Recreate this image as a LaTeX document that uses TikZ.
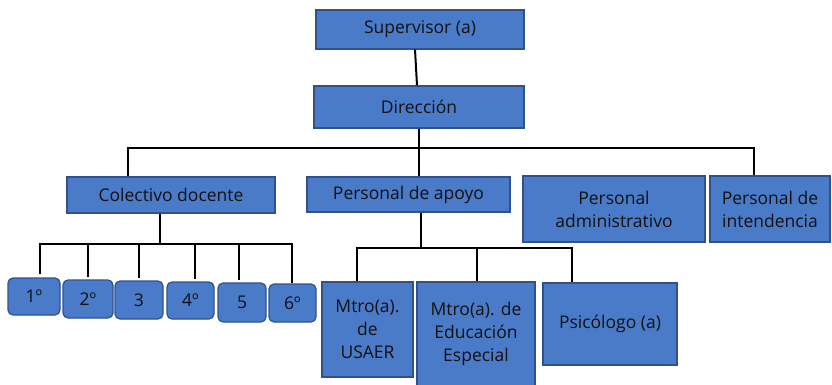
\documentclass[tikz,border=0pt]{standalone}
\usepackage{fontspec}
\setmainfont{Open Sans}
\usetikzlibrary{calc}
\definecolor{boxfill}{HTML}{4A7BC9}
\definecolor{boxline}{HTML}{2F528F}
\definecolor{txt}{HTML}{111111}
\tikzset{
  box/.style={draw=boxline, line width=1.2pt, fill=boxfill, text=txt, align=center,
    inner sep=0pt, font=\fontsize{17.5}{23}\selectfont},
  rbox/.style={box, rounded corners=5pt},
  conn/.style={draw=black, line width=2pt},
}
\begin{document}
\begin{tikzpicture}[x=1pt,y=-1pt]
\useasboundingbox (0,0) rectangle (832,384);
\fill[white] (0,0) rectangle (832,384);
% top
\node[box, minimum width=208, minimum height=39] (sup) at (420,29.5) {Supervisor (a)};
\node[box, minimum width=210, minimum height=42] (dir) at (419,107) {Dirección};
% level 2
\node[box, minimum width=208, minimum height=36] (col) at (171,195) {Colectivo docente};
\node[box, minimum width=203, minimum height=35] (apo) at (408.5,194.5) {Personal de apoyo};
\node[box, minimum width=182, minimum height=66] (adm) at (614,209) {Personal\\administrativo};
\node[box, minimum width=120, minimum height=66] (int) at (770,209) {Personal de\\intendencia};
% grades
\node[rbox, minimum width=52, minimum height=37] (b1) at (34,296.5) {1º};
\node[rbox, minimum width=50, minimum height=38] (b2) at (88,299) {2º};
\node[rbox, minimum width=48, minimum height=38] (b3) at (139,300) {3};
\node[rbox, minimum width=47, minimum height=37] (b4) at (190.5,300.5) {4º};
\node[rbox, minimum width=48, minimum height=39] (b5) at (242,302.5) {5};
\node[rbox, minimum width=47, minimum height=38] (b6) at (292.5,303) {6º};
% support staff
\node[box, minimum width=91, minimum height=95] (usa) at (367.5,329.5) {Mtro(a).\\de\\USAER};
\node[box, minimum width=118, minimum height=104] (edu) at (476,334) {Mtro(a). de\\Educación\\Especial};
\node[box, minimum width=134, minimum height=82] (psi) at (610,324) {Psicólogo (a)};
% connectors
\draw[conn] ($(sup.south)+(-5,0)$) -- ($(dir.north)+(-2,0)$);
\coordinate (h0) at (419,148);
\coordinate (hL) at (128,148);
\coordinate (hR) at (754,148);
\draw[conn] (dir.south) -- (h0 |- apo.north);
\draw[conn] (hL |- col.north) -- (hL) -- (hR) -- (hR |- int.north);
% colectivo bus
\coordinate (c0) at (160,244);
\coordinate (cL) at (40,244);
\coordinate (cR) at (292,244);
\draw[conn] (c0 |- col.south) -- (c0);
\draw[conn] ($(cL |- b1.north)+(0,-3)$) -- (cL) -- (cR) -- (cR |- b6.north);
\foreach \b/\x in {b2/88, b3/139, b4/195, b5/239}{
  \draw[conn] (\x,244) -- ($(\x,0 |- \b.north)+(0,-2)$);
}
% apoyo bus
\coordinate (a0) at (421,248);
\coordinate (aL) at (357,248);
\coordinate (aM) at (477,248);
\coordinate (aR) at (572,248);
\draw[conn] (a0 |- apo.south) -- (a0);
\draw[conn] (aL |- usa.north) -- (aL) -- (aR) -- (aR |- psi.north);
\draw[conn] (aM) -- (aM |- edu.north);
\end{tikzpicture}
\end{document}
